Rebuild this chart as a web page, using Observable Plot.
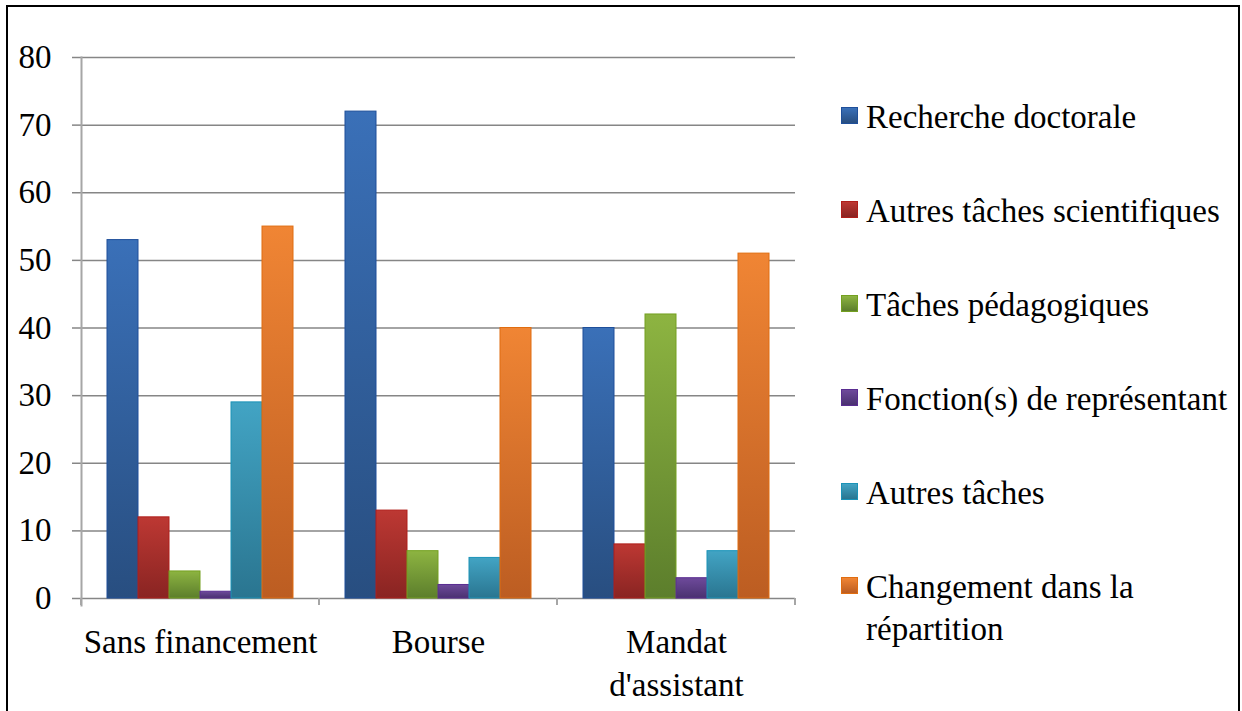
<!DOCTYPE html>
<html>
<head>
<meta charset="utf-8">
<script src="https://cdn.jsdelivr.net/npm/d3@7"></script>
<script src="https://cdn.jsdelivr.net/npm/@observablehq/plot@0.6"></script>
<style>
html, body { margin: 0; padding: 0; background: #fff; font-family: 'Liberation Serif', 'Times New Roman', serif; }
#wrap { position: relative; width: 1242px; height: 711px; overflow: hidden; }
#border { position: absolute; left: 6px; top: 5px; width: 1230px; height: 760px; border: 2px solid #000; border-bottom: none; }
#chart { position: absolute; left: 0; top: 0; }
#legend { position: absolute; left: 841px; top: 96px; display: flex; flex-direction: column; gap: 52px; }
.item { display: flex; align-items: flex-start; font-size: 33px; line-height: 42px; color: #000; white-space: pre; }
.sw { width: 15px; height: 15px; margin-top: 11px; margin-right: 8px; flex: none; border: 1px solid; }
</style>
</head>
<body>
<div id="wrap"><div id="border"></div><div id="chart"></div><div id="legend"></div></div>
<script>
// ---- data ----
const categories = ["Sans financement", "Bourse", "Mandat d'assistant"];
const categoryLabels = ["Sans financement", "Bourse", "Mandat\nd'assistant"];
const series = [
  "Recherche doctorale",
  "Autres tâches scientifiques",
  "Tâches pédagogiques",
  "Fonction(s) de représentant",
  "Autres tâches",
  "Changement dans la répartition"
];
const legendLabels = [
  "Recherche doctorale",
  "Autres tâches scientifiques",
  "Tâches pédagogiques",
  "Fonction(s) de représentant",
  "Autres tâches",
  "Changement dans la\nrépartition"
];
const rechercheDoctorale = [53, 72, 40];
const autresTachesScientifiques = [12, 13, 8];
const tachesPedagogiques = [4, 7, 42];
const fonctionsRepresentant = [1, 2, 3];
const autresTaches = [29, 6, 7];
const changementRepartition = [55, 40, 51];
const yTicks = [0, 10, 20, 30, 40, 50, 60, 70, 80];

// ---- colours ----
const colorTop = ["#3a70b8", "#bd3833", "#8db441", "#6e4a9b", "#42a4c4", "#f08534"];
const colorBottom = ["#284e80", "#892422", "#5c7e2c", "#4a3170", "#2a7590", "#bc5d22"];
const colorStroke = ["#1f4f9a", "#b01e1a", "#74a020", "#5a2d91", "#1b93b8", "#e06d10"];
const gridColor = "#868686";
const axisColor = "#a6a6a6";
const fontName = "Liberation Serif";
const fontPx = 33;

const valuesBySeries = [
  rechercheDoctorale, autresTachesScientifiques, tachesPedagogiques,
  fonctionsRepresentant, autresTaches, changementRepartition
];
const data = [];
categories.forEach((c, j) => {
  series.forEach((s, i) => {
    data.push({category: c, series: s, si: i, value: valuesBySeries[i][j]});
  });
});

// gradients
const defs = d3.select("body").append("svg")
  .attr("width", 0).attr("height", 0)
  .style("position", "absolute").append("defs");
series.forEach((s, i) => {
  const lg = defs.append("linearGradient").attr("id", "grad" + i)
    .attr("x1", 0).attr("y1", 0).attr("x2", 0).attr("y2", 1);
  lg.append("stop").attr("offset", "0%").attr("stop-color", colorTop[i]);
  lg.append("stop").attr("offset", "100%").attr("stop-color", colorBottom[i]);
});

const tickLen = 7;
function boundaryTicks(index, scales, values, dimensions) {
  const x = scales.x, y = scales.y;
  const r = x.range();
  const y0 = y(0);
  const g = d3.create("svg:g").attr("stroke", axisColor).attr("stroke-width", 2);
  for (const xx of [r[0], r[1]]) {
    g.append("line").attr("x1", xx).attr("x2", xx).attr("y1", y0).attr("y2", y0 + tickLen);
  }
  return g.node();
}

const plot = Plot.plot({
  width: 820,
  height: 711,
  marginTop: 57,
  marginBottom: 113,
  marginLeft: 80,
  marginRight: 24,
  style: {background: "transparent", overflow: "visible", fontFamily: fontName},
  fx: {domain: categories, padding: 0, axis: null},
  x: {domain: series, paddingInner: 0, paddingOuter: 0.72, axis: null},
  y: {domain: [0, 80]},
  marks: [
    Plot.ruleY(yTicks, {stroke: gridColor, strokeWidth: 1.5}),
    Plot.axisY({ticks: yTicks, tickSize: 9, tickPadding: 21, stroke: gridColor, strokeWidth: 1.5, fill: "#000", fontSize: fontPx, fontFamily: fontName, tickFormat: d => String(d), label: null}),
    Plot.frame({anchor: "left", facetAnchor: "left", stroke: axisColor, strokeWidth: 2, insetBottom: -tickLen}),
    boundaryTicks,
    Plot.barY(data, {
      fx: "category", x: "series", y: "value",
      fill: d => `url(#grad${d.si})`,
      stroke: d => colorStroke[d.si],
      strokeWidth: 1
    }),
    Plot.text(categories, {
      fx: d => d,
      text: (d, i) => categoryLabels[i],
      frameAnchor: "bottom", lineAnchor: "top", dy: 24, lineHeight: 1.3,
      fontSize: fontPx, fontFamily: fontName, fill: "#000"
    })
  ]
});
document.getElementById("chart").appendChild(plot);

// legend
const legend = d3.select("#legend");
series.forEach((s, i) => {
  const item = legend.append("div").attr("class", "item").style("font-family", `'${fontName}'`);
  item.append("div").attr("class", "sw")
    .style("background", `linear-gradient(${colorTop[i]}, ${colorBottom[i]})`)
    .style("border-color", colorStroke[i]);
  item.append("div").text(legendLabels[i]);
});
</script>
</body>
</html>
